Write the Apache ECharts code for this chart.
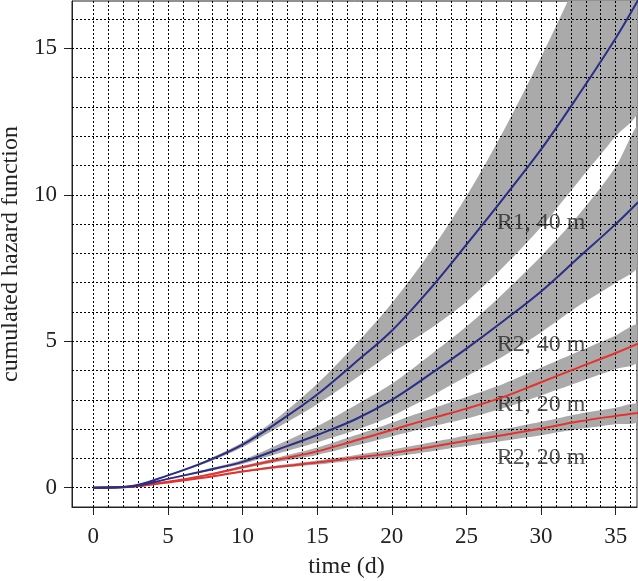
<!DOCTYPE html>
<html>
<head>
<meta charset="utf-8">
<script src="https://cdn.jsdelivr.net/npm/echarts@6/dist/echarts.min.js"></script>
<style>html,body{margin:0;padding:0;background:#fff}#c{width:638px;height:581px}</style>
</head>
<body>
<div id="c"></div>
<script>
// time (d)
const t = [0, 2.5, 5, 7.5, 10, 12.5, 15, 17.5, 20, 22.5, 25, 27.5, 30, 32.5, 35, 36.5];

// R1, 40 m
const r1_40 = [0, 0.05, 0.42, 0.88, 1.47, 2.28, 3.18, 4.25, 5.36, 6.75, 8.3, 9.9, 11.55, 13.4, 15.35, 16.65];
const r1_40_lo = [0, 0.04, 0.4, 0.83, 1.38, 2.1, 2.85, 3.7, 4.6, 5.4, 6.35, 7.55, 8.9, 10.45, 12.0, 12.9];
const r1_40_hi = [0, 0.05, 0.44, 0.93, 1.55, 2.45, 3.55, 4.85, 6.3, 8.0, 9.95, 12.2, 14.7, 17.4, 20.3, 22.1];

// R2, 40 m
const r2_40 = [0, 0.04, 0.3, 0.58, 0.88, 1.33, 1.8, 2.32, 3.0, 3.85, 4.75, 5.7, 6.7, 7.85, 9.0, 9.75];
const r2_40_lo = [0, 0.03, 0.28, 0.54, 0.81, 1.18, 1.55, 1.95, 2.45, 3.1, 3.8, 4.5, 5.3, 6.2, 7.0, 7.6];
const r2_40_hi = [0, 0.04, 0.32, 0.62, 0.95, 1.5, 2.1, 2.8, 3.55, 4.5, 5.5, 6.65, 7.9, 9.3, 10.95, 12.3];

// R1, 20 m
const r1_20 = [0, 0.03, 0.2, 0.42, 0.7, 0.97, 1.24, 1.6, 1.97, 2.35, 2.7, 3.1, 3.6, 4.1, 4.6, 4.92];
const r1_20_lo = [0, 0.03, 0.19, 0.39, 0.65, 0.89, 1.12, 1.43, 1.75, 2.07, 2.36, 2.72, 3.15, 3.6, 4.05, 4.3];
const r1_20_hi = [0, 0.03, 0.21, 0.45, 0.75, 1.05, 1.37, 1.78, 2.22, 2.67, 3.1, 3.55, 4.1, 4.65, 5.2, 5.55];

// R2, 20 m
const r2_20 = [0, 0.03, 0.18, 0.35, 0.55, 0.72, 0.86, 1.02, 1.18, 1.38, 1.6, 1.8, 2.02, 2.26, 2.45, 2.55];
const r2_20_lo = [0, 0.03, 0.17, 0.33, 0.52, 0.67, 0.79, 0.93, 1.06, 1.23, 1.42, 1.6, 1.79, 2.0, 2.17, 2.25];
const r2_20_hi = [0, 0.03, 0.19, 0.37, 0.58, 0.77, 0.93, 1.11, 1.3, 1.53, 1.78, 2.0, 2.25, 2.52, 2.73, 2.85];

// curve labels
const labelText = ['R1, 40 m', 'R2, 40 m', 'R1, 20 m', 'R2, 20 m'];
const labelX = [30, 30, 30, 30];
const labelY = [9.04, 4.87, 2.82, 1.03];

// axis ticks and grid
const xTicks = [0, 5, 10, 15, 20, 25, 30, 35];
const yTicks = [0, 5, 10, 15];
const gridX = [0,1,2,3,4,5,6,7,8,9,10,11,12,13,14,15,16,17,18,19,20,21,22,23,24,25,26,27,28,29,30,31,32,33,34,35,36];
const gridY = [0,1,2,3,4,5,6,7,8,9,10,11,12,13,14,15,16];

const BLUE = '#2b2e86', RED = '#e5322f', GRAY = '#aaaaaa';
const FONT = '"Liberation Serif", "Times New Roman", serif';

const pairs = (ys) => t.map((x, i) => [x, ys[i]]);

function band(name, lo, hi) {
  return {
    type: 'custom', name: name, coordinateSystem: 'cartesian2d', clip: true, silent: true, z: 2,
    data: t.map((x, i) => [x, lo[i], hi[i]]),
    encode: { x: 0, y: [1, 2] },
    renderItem: function (params, api) {
      if (params.dataIndex !== 0) return null;
      const top = t.map((x, i) => api.coord([x, hi[i]]));
      const bot = t.map((x, i) => api.coord([x, lo[i]])).reverse();
      return { type: 'polygon', shape: { points: top.concat(bot), smooth: 0.3 },
               style: { fill: GRAY, stroke: null } };
    }
  };
}
function curve(name, ys, color) {
  return { type: 'line', name: name, data: pairs(ys), smooth: 0.35, showSymbol: false,
    lineStyle: { color: color, width: 2 }, itemStyle: { color: color }, silent: true, z: 5 };
}

const series = [
  band('r1_40', r1_40_lo, r1_40_hi),
  band('r2_40', r2_40_lo, r2_40_hi),
  band('r1_20', r1_20_lo, r1_20_hi),
  band('r2_20', r2_20_lo, r2_20_hi),
  {
    type: 'scatter', name: 'labels', symbolSize: 0, silent: true, z: 3,
    data: labelText.map((s, i) => ({ value: [labelX[i], labelY[i]], name: s })),
    label: { show: true, position: 'inside', formatter: p => p.name, color: '#2b2b2b',
      fontFamily: FONT, fontSize: 24, align: 'center', verticalAlign: 'middle' }
  },
  {
    type: 'line', name: 'grid', data: [], silent: true, z: 4,
    markLine: {
      silent: true, animation: false, symbol: ['none', 'none'], label: { show: false },
      lineStyle: { color: '#000', type: [2, 2], width: 1 },
      emphasis: { disabled: true },
      data: gridX.map(v => ({ xAxis: v })).concat(gridY.map(v => ({ yAxis: v })))
    }
  },
  curve('R1, 20 m', r1_20, RED), curve('R2, 20 m', r2_20, RED),
  curve('R1, 40 m', r1_40, BLUE), curve('R2, 40 m', r2_40, BLUE)
];

const chart = echarts.init(document.getElementById('c'), null, { renderer: 'canvas' });
chart.setOption({
  animation: false,
  backgroundColor: '#fff',
  grid: { left: 72, right: 1, top: 1, bottom: 74, containLabel: false, outerBoundsMode: 'none',
          show: true, borderColor: '#222', borderWidth: 1, backgroundColor: 'transparent' },
  xAxis: {
    type: 'value', min: -1.43, max: 36.43,
    name: 'time (d)', nameLocation: 'middle', nameGap: 48,
    nameTextStyle: { fontFamily: FONT, fontSize: 24, color: '#222', padding: [0, 16, 0, 0] },
    axisLine: { show: true, onZero: false, lineStyle: { color: '#222', width: 1 } },
    axisTick: { show: true, length: 8, customValues: xTicks, lineStyle: { color: '#222' } },
    axisLabel: { customValues: xTicks, margin: 18, fontFamily: FONT, fontSize: 23, color: '#222' },
    splitLine: { show: false }
  },
  yAxis: {
    type: 'value', min: -0.66, max: 16.62,
    name: 'cumulated hazard function', nameLocation: 'middle', nameRotate: 90, nameGap: 41,
    nameTextStyle: { fontFamily: FONT, fontSize: 24, color: '#222' },
    axisLine: { show: true, onZero: false, lineStyle: { color: '#222', width: 1 } },
    axisTick: { show: true, length: 8, customValues: yTicks, lineStyle: { color: '#222' } },
    axisLabel: { customValues: yTicks, margin: 15, fontFamily: FONT, fontSize: 23, color: '#222' },
    splitLine: { show: false }
  },
  series: series
});
</script>
</body>
</html>
